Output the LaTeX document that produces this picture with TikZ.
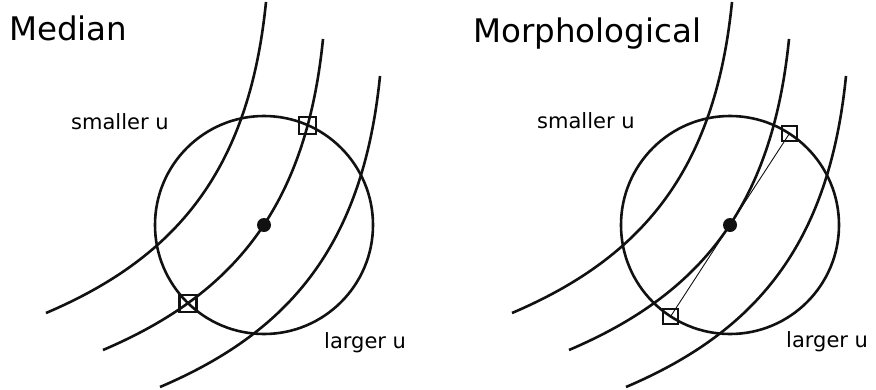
\documentclass[tikz,border=0pt]{standalone}
\usepackage{fontspec}
\setmainfont{DejaVu Sans}
\usepackage{xcolor}
\definecolor{cInk}{HTML}{111111}
\usetikzlibrary{positioning,intersections}
\tikzset{
  level-curve/.style={draw=cInk,line width=2.6pt},
  window-circle/.style={draw=cInk,line width=2.6pt},
  node-center/.style={circle,fill=cInk,inner sep=0pt,minimum size=14pt},
  node-sample/.style={draw=cInk,line width=2.2pt,inner sep=0pt,minimum size=17pt},
  node-title/.style={anchor=base west,inner sep=0pt,
    font=\fontsize{32.5}{36}\selectfont},
  node-label/.style={anchor=base west,inner sep=0pt,
    font=\fontsize{21}{24}\selectfont},
  link-thin/.style={draw=cInk,line width=0.9pt},
}

\begin{document}
\begin{tikzpicture}[x=1pt,y=-1pt]
  \useasboundingbox (0,0) rectangle (876,389);

  % median
  \node[node-title] (t-med) at (9,40) {Median};
  \node[node-label] (s-med) at (71,129) {smaller u};
  \node[node-label] (l-med) at (324,348) {larger u};
  \draw[level-curve] (266,2) .. controls (249,172) and (175,258) .. (46,313);
  \draw[level-curve,name path=mid-med] (323,39) .. controls (306,209) and (232,295) .. (103,350);
  \draw[level-curve] (380,76) .. controls (363,246) and (289,332) .. (160,387);
  \coordinate (o-med) at (264,225);
  \draw[window-circle,name path=circ-med] (o-med) circle[radius=109];
  \path[name intersections={of=mid-med and circ-med,by={p-med,q-med}}];
  \node[node-sample] (sp-med) at (p-med) {};
  \node[node-sample] (sq-med) at (q-med) {};
  \node[node-center] (c-med) at (o-med) {};

  % morphological
  \begin{scope}[shift={(466,0)}]
    \node[node-title] (t-mor) at (7,42) {Morphological};
    \node[node-label] (s-mor) at (71,128) {smaller u};
    \node[node-label] (l-mor) at (320,347) {larger u};
    \draw[level-curve] (266,2) .. controls (249,172) and (175,258) .. (46,313);
    \draw[level-curve] (323,39) .. controls (306,209) and (232,295) .. (103,350);
    \draw[level-curve] (380,76) .. controls (363,246) and (289,332) .. (160,387);
    \coordinate (o-mor) at (264,225);
    \draw[window-circle] (o-mor) circle[radius=109];
    \node[node-sample,minimum size=15pt,line width=1.8pt] (sp-mor) at (323.4,133.6) {};
    \node[node-sample,minimum size=15pt,line width=1.8pt] (sq-mor) at (204.6,316.4) {};
    \draw[link-thin] (sp-mor.center) -- (sq-mor.center);
    \node[node-center] (c-mor) at (o-mor) {};
  \end{scope}
\end{tikzpicture}
\end{document}
